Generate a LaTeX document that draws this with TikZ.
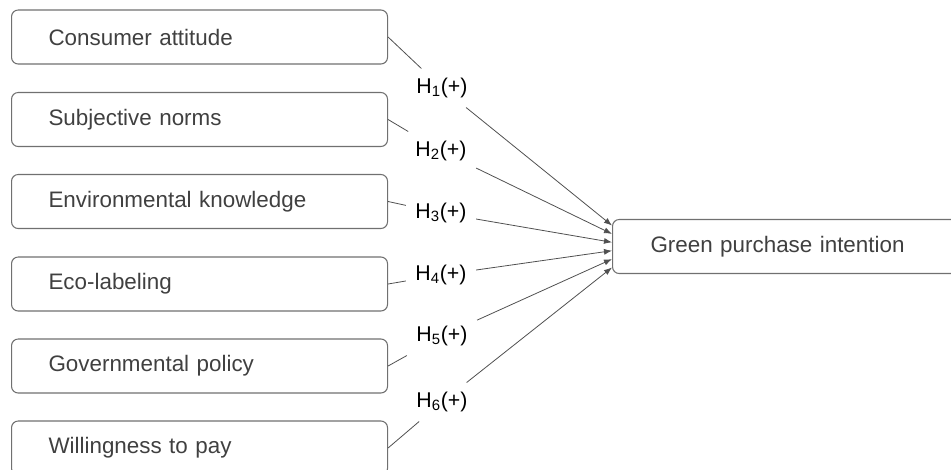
\documentclass[tikz,border=0pt]{standalone}
\usepackage{fontspec}
\setmainfont{Liberation Sans}
\usetikzlibrary{arrows.meta,calc}
\definecolor{boxline}{RGB}{112,112,112}
\definecolor{boxtext}{RGB}{64,64,64}
\definecolor{linkline}{RGB}{80,80,80}

\tikzset{
  factor/.style={draw=boxline, line width=0.8pt, rounded corners=5pt, anchor=west,
    minimum height=40.5pt, inner xsep=27.75pt, text width=226.5pt, align=left,
    text=boxtext, font=\fontsize{16.8}{20}\selectfont},
  outcome/.style={factor, text width=240pt, inner xsep=28.5pt},
  hyp/.style={inner sep=7pt, font=\fontsize{16}{19}\selectfont},
  link/.style={draw=linkline, line width=0.6pt},
  linkarrow/.style={link, -{Latex[length=6pt,width=4.5pt]}}
}

\begin{document}
\begin{tikzpicture}[x=0.75pt,y=0.75pt,yscale=-1,xscale=1]
\useasboundingbox (0,0) rectangle (951,469);
\clip (0,0) rectangle (951,469);

%Shape: Rounded Rect
\node [factor] (att) at (11,37) {Consumer attitude};
\node [factor] (norm) at (11,119.5) {Subjective norms};
\node [factor] (know) at (11,201.5) {Environmental knowledge};
\node [factor] (label) at (11,284) {Eco-labeling};
\node [factor] (policy) at (11,366) {Governmental policy};
\node [factor] (pay) at (11,448) {Willingness to pay};
%Shape: Rounded Rect
\node [outcome] (gpi) at (612,246.5) {Green purchase intention};

% Text Node
\node [hyp] (h1) at (442,88) {H\textsubscript{1}(+)};
\node [hyp] (h2) at (441,151) {H\textsubscript{2}(+)};
\node [hyp] (h3) at (441,213) {H\textsubscript{3}(+)};
\node [hyp] (h4) at (441,275) {H\textsubscript{4}(+)};
\node [hyp] (h5) at (442,336) {H\textsubscript{5}(+)};
\node [hyp] (h6) at (442,402) {H\textsubscript{6}(+)};

%Straight Lines
\draw [link] (att.east) -- (h1);
\draw [link] (norm.east) -- (h2);
\draw [link] (know.east) -- (h3);
\draw [link] (label.east) -- (h4);
\draw [link] (policy.east) -- (h5);
\draw [link] (pay.east) -- (h6);

%Straight Lines
\draw [linkarrow] (h1) -- ($(gpi.west)+(0,-21)$);
\draw [linkarrow] (h2) -- ($(gpi.west)+(0,-12.6)$);
\draw [linkarrow] (h3) -- ($(gpi.west)+(0,-4.2)$);
\draw [linkarrow] (h4) -- ($(gpi.west)+(0,4.2)$);
\draw [linkarrow] (h5) -- ($(gpi.west)+(0,12.6)$);
\draw [linkarrow] (h6) -- ($(gpi.west)+(0,21)$);

\end{tikzpicture}
\end{document}
